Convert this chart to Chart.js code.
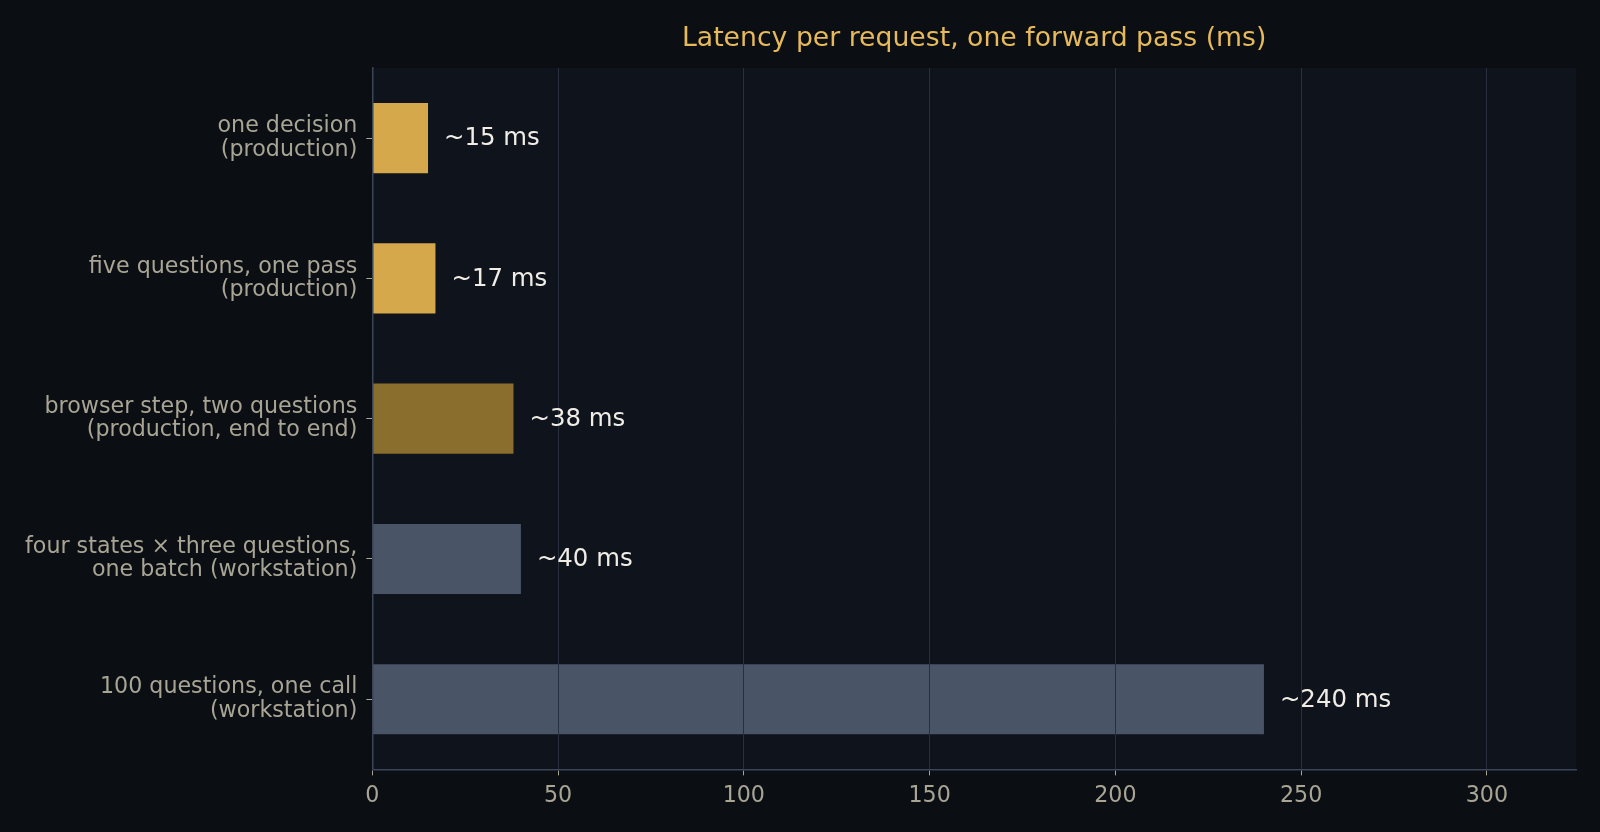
<!DOCTYPE html>
<html lang="en">
<head>
  <meta charset="UTF-8" />
  <title>Latency per request</title>
  <script src="https://cdn.jsdelivr.net/npm/chart.js"></script>
  <style>
    html, body {
      margin: 0;
      padding: 0;
      background: #0b0e13;
    }
    .wrap {
      width: 1600px;
      height: 832px;
      position: relative;
    }
  </style>
</head>
<body>
  <div class="wrap"><canvas id="chart"></canvas></div>
<script>
    const chartTitle = 'Latency per request, one forward pass (ms)';
    const categories = [
      ['one decision', '(production)'],
      ['five questions, one pass', '(production)'],
      ['browser step, two questions', '(production, end to end)'],
      ['four states \u00d7 three questions,', 'one batch (workstation)'],
      ['100 questions, one call', '(workstation)']
    ];
    const latencyMs = [15, 17, 38, 40, 240];
    const valueLabels = ['~15 ms', '~17 ms', '~38 ms', '~40 ms', '~240 ms'];
    const barColors = ['#d4a84b', '#d4a84b', '#8a6e2d', '#4a5467', '#4a5467'];
    const xTicks = [0, 50, 100, 150, 200, 250, 300];

    const FONT = "'DejaVu Sans', sans-serif";

    // plot area panel + title centred over it
    const backdrop = {
      id: 'backdrop',
      beforeDraw(chart) {
        const { ctx, chartArea: a } = chart;
        ctx.save();
        ctx.fillStyle = '#0f131b';
        ctx.fillRect(a.left, a.top, a.right - a.left, a.bottom - a.top);
        ctx.fillStyle = '#e6b95a';
        ctx.font = '26.7px ' + FONT;
        ctx.textAlign = 'center';
        ctx.textBaseline = 'middle';
        ctx.fillText(chartTitle, (a.left + a.right) / 2, 39);
        ctx.restore();
      }
    };

    // "~xx ms" text at the end of each bar
    const barValues = {
      id: 'barValues',
      afterDraw(chart) {
        const { ctx } = chart;
        const meta = chart.getDatasetMeta(0);
        ctx.save();
        ctx.fillStyle = '#f0ede6';
        ctx.font = '24.4px ' + FONT;
        ctx.textAlign = 'left';
        ctx.textBaseline = 'middle';
        meta.data.forEach((bar, i) => {
          ctx.fillText(valueLabels[i], bar.x + 16, bar.y + 1);
        });
        ctx.restore();
      }
    };

    new Chart(document.getElementById('chart'), {
      type: 'bar',
      data: {
        labels: categories,
        datasets: [{
          data: latencyMs,
          backgroundColor: barColors,
          borderWidth: 0,
          barPercentage: 0.5,
          categoryPercentage: 1.0
        }]
      },
      options: {
        indexAxis: 'y',
        responsive: true,
        maintainAspectRatio: false,
        animation: false,
        layout: {
          padding: { top: 68, right: 24, bottom: 14, left: 16 }
        },
        plugins: {
          legend: { display: false },
          tooltip: { enabled: false },
          title: { display: false }
        },
        scales: {
          x: {
            min: 0,
            max: 324,
            afterBuildTicks: (scale) => {
              scale.ticks = xTicks.map(v => ({ value: v }));
            },
            ticks: {
              color: '#a9a595',
              padding: 8,
              font: { family: FONT, size: 22.2 }
            },
            grid: {
              z: 1,
              color: '#283040',
              lineWidth: 1,
              tickColor: '#a9a595',
              tickLength: 6
            },
            border: { color: '#3b4558', width: 1.5, z: 2 }
          },
          y: {
            ticks: {
              color: '#a9a595',
              padding: 9,
              font: { family: FONT, size: 22.2, lineHeight: 1.05 }
            },
            grid: {
              display: true,
              offset: false,
              drawOnChartArea: false,
              tickColor: '#a9a595',
              tickLength: 6
            },
            border: { color: '#3b4558', width: 1.5, z: 2 }
          }
        }
      },
      plugins: [backdrop, barValues]
    });
  </script>
</body>
</html>
